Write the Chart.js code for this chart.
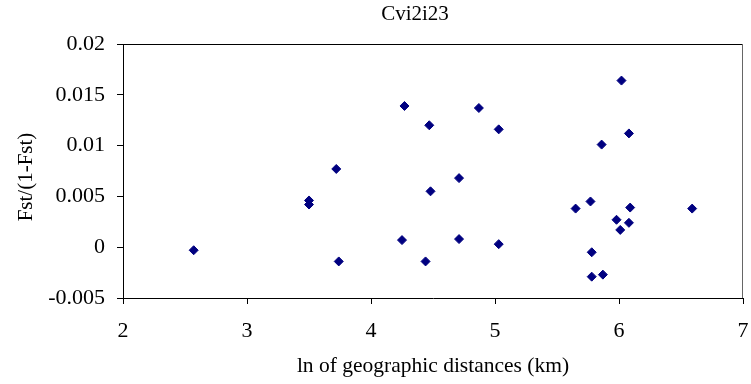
<!DOCTYPE html>
<html>
<head>
<meta charset="utf-8">
<script src="https://cdn.jsdelivr.net/npm/chart.js@4"></script>
<style>
  html, body { margin: 0; padding: 0; background: #fff; }
  canvas { display: block; }
</style>
</head>
<body>
<canvas id="chart" width="751" height="384"></canvas>
<script>
// valeurs
const xValues = [2.57, 3.50, 3.50, 3.72, 3.74, 4.27, 4.25, 4.44, 4.47, 4.48, 4.71, 4.71, 4.87, 5.03,
  5.03, 6.02, 6.08, 5.86, 5.65, 5.77, 6.09, 6.59, 5.98, 6.08, 6.01, 5.78, 5.78, 5.87];
const yValues = [-0.0003, 0.0046, 0.0042, 0.0077, -0.0014, 0.0139, 0.0007, -0.0014, 0.0120, 0.0055,
  0.0068, 0.0008, 0.0137, 0.0116, 0.0003, 0.0164, 0.0112, 0.0101, 0.0038, 0.0045, 0.0039, 0.0038,
  0.0027, 0.0024, 0.0017, -0.0005, -0.0029, -0.0027];

const xTickValues = [2, 3, 4, 5, 6, 7];
const yTickValues = [-0.005, 0, 0.005, 0.01, 0.015, 0.02];
const yTickLabels = ["-0.005", "0", "0.005", "0.01", "0.015", "0.02"];

const chartTitle = "Cvi2i23";
const yTitle = "Fst/(1-Fst)";

const points = xValues.map((x, i) => ({ x, y: yValues[i] }));

const FONT = '"Liberation Serif", "Times New Roman", serif';
Chart.defaults.font.family = FONT;
Chart.defaults.color = "#000";

// cadre haut/droit + titres placés comme dans l'original (pas tout à fait centrés)
const frame = {
  id: "frame",
  afterDraw(chart) {
    const { ctx, chartArea: a } = chart;
    ctx.save();
    ctx.lineWidth = 1;
    ctx.strokeStyle = "#000";
    ctx.beginPath();
    ctx.moveTo(a.left, a.top + 0.5);
    ctx.lineTo(a.right, a.top + 0.5);
    ctx.stroke();
    ctx.strokeStyle = "#666";
    ctx.beginPath();
    ctx.moveTo(a.right - 0.5, a.top);
    ctx.lineTo(a.right - 0.5, a.bottom);
    ctx.stroke();

    ctx.fillStyle = "#000";
    ctx.textAlign = "center";
    ctx.textBaseline = "middle";
    ctx.font = "21px " + FONT;
    ctx.fillText(chartTitle, 415, 14);

    ctx.translate(26, a.top + (a.bottom - a.top) / 2 + 6);
    ctx.rotate(-Math.PI / 2);
    ctx.fillText(yTitle, 0, 0);
    ctx.restore();
  },
};

new Chart(document.getElementById("chart"), {
  type: "scatter",
  data: {
    datasets: [
      {
        data: points,
        pointStyle: "rectRot",
        pointRadius: 4.5,
        pointBorderWidth: 1,
        backgroundColor: "#000080",
        borderColor: "#000080",
      },
    ],
  },
  options: {
    responsive: false,
    animation: false,
    devicePixelRatio: 1,
    layout: { padding: { left: 0, right: 8, top: 44, bottom: 0 } },
    plugins: {
      legend: { display: false },
      tooltip: { enabled: false },
      title: { display: false },
    },
    scales: {
      x: {
        type: "linear",
        min: 2,
        max: 7,
        afterBuildTicks: (s) => { s.ticks = xTickValues.map((v) => ({ value: v })); },
        afterFit: (s) => {
          s.height = 86;
          s.paddingLeft = 0;
          s.paddingRight = 0;
        },
        ticks: { font: { size: 22 }, padding: 14, maxRotation: 0 },
        grid: { drawOnChartArea: false, tickLength: 6, color: "#000" },
        border: { color: "#000" },
        title: {
          display: true,
          text: "ln of geographic distances (km)",
          font: { size: 21.5 },
          padding: { top: 0, bottom: 5 },
        },
      },
      y: {
        type: "linear",
        min: -0.005,
        max: 0.02,
        afterBuildTicks: (s) => { s.ticks = yTickValues.map((v) => ({ value: v })); },
        afterFit: (s) => { s.width = 123; },
        ticks: {
          font: { size: 22 },
          padding: 12,
          callback: (v) => yTickLabels[yTickValues.findIndex((t) => Math.abs(t - v) < 1e-9)],
        },
        grid: { drawOnChartArea: false, tickLength: 6, color: "#000" },
        border: { color: "#000" },
      },
    },
  },
  plugins: [frame],
});
</script>
</body>
</html>
